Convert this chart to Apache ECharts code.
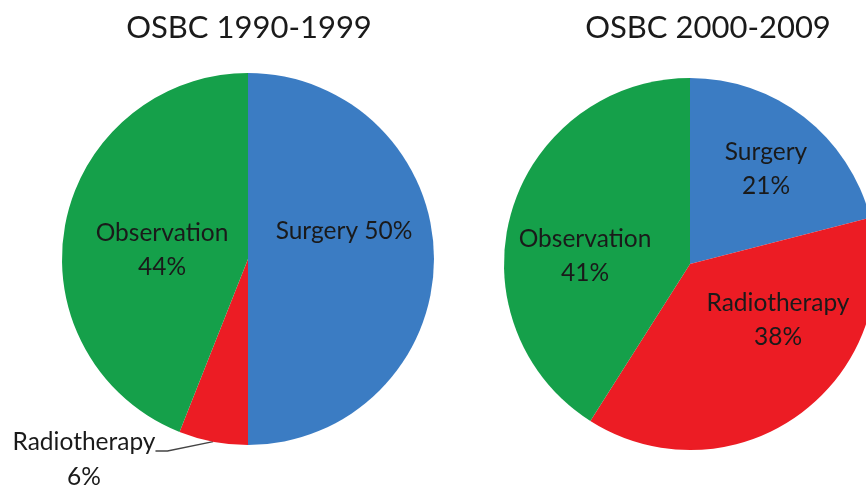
<!DOCTYPE html>
<html>
<head>
<meta charset="utf-8">
<script src="https://cdn.jsdelivr.net/npm/echarts@6/dist/echarts.min.js"></script>
<style>html,body{margin:0;padding:0;background:#fff;}#c{width:866px;height:486px;}</style>
</head>
<body>
<div id="c"></div>
<script>
const titles = ['OSBC 1990-1999', 'OSBC 2000-2009'];
const categories = ['Surgery', 'Radiotherapy', 'Observation'];
const values1990 = [50, 6, 44];
const values2000 = [21, 38, 41];
const colors = ['#3b7cc3', '#ec1c24', '#15a04a'];

const FONT = 'Lato';
const chart = echarts.init(document.getElementById('c'), null, {renderer: 'canvas'});

// label anchor positions (centre of label box), per series, per data index
const labelPos = [
  [[344, 231], [84, 451], [162, 250]],
  [[766, 169], [778, 320], [585, 256]]
];

function mk(values) {
  return categories.map((n, i) => ({name: n, value: values[i], itemStyle: {color: colors[i]}}));
}

const baseLabel = {
  show: true,
  position: 'inside',
  color: '#1a1a1a',
  fontFamily: FONT,
  fontSize: 24.5,
  lineHeight: 34,
  align: 'center'
};

chart.setOption({
  backgroundColor: '#ffffff',
  animation: false,
  title: [
    {text: titles[0], left: 244, top: 7, textAlign: 'center',
     textStyle: {fontFamily: FONT, fontSize: 31, fontWeight: 'normal', color: '#1a1a1a'}},
    {text: titles[1], left: 703, top: 7, textAlign: 'center',
     textStyle: {fontFamily: FONT, fontSize: 31, fontWeight: 'normal', color: '#1a1a1a'}}
  ],
  series: [
    {
      type: 'pie', center: [248, 259], radius: 186, startAngle: 90, clockwise: true,
      label: Object.assign({}, baseLabel, {
        formatter: p => p.dataIndex === 0 ? p.name + ' ' + p.value + '%' : p.name + '\n' + p.value + '%'
      }),
      labelLine: {show: false},
      data: mk(values1990).map((d, i) => i === 1 ? Object.assign(d, {
        label: {
          position: 'outside',
          lineHeight: 35,
          formatter: p => '{gap| }\n' + p.name + '\n' + p.value + '%',
          rich: {gap: {lineHeight: 17, fontSize: 4}}
        },
        labelLine: {show: true, length: 8, length2: 12, lineStyle: {color: '#444', width: 1.3}}
      }) : d),
      labelLayout: p => ({x: labelPos[0][p.dataIndex][0], y: labelPos[0][p.dataIndex][1], align: 'center', verticalAlign: 'middle'})
    },
    {
      type: 'pie', center: [690, 264], radius: 186, startAngle: 90, clockwise: true,
      label: Object.assign({}, baseLabel, {
        formatter: p => p.name + '\n' + p.value + '%'
      }),
      labelLine: {show: false},
      data: mk(values2000),
      labelLayout: p => ({x: labelPos[1][p.dataIndex][0], y: labelPos[1][p.dataIndex][1], align: 'center', verticalAlign: 'middle'})
    }
  ]
});
</script>
</body>
</html>
